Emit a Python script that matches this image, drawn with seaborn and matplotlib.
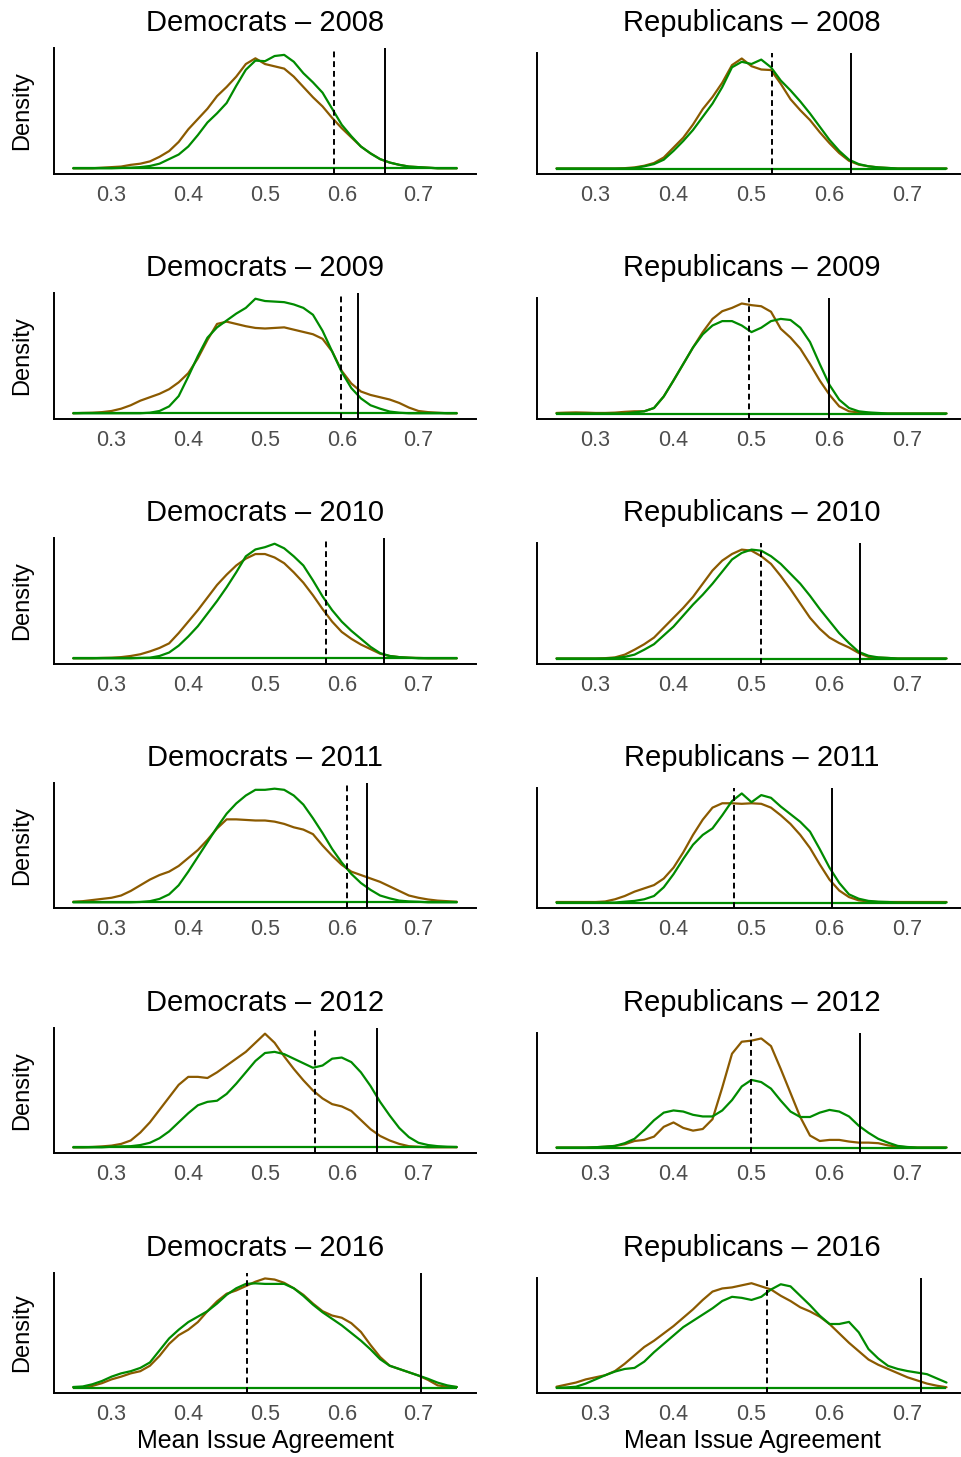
"""
Density panels of mean issue agreement, Democrats vs Republicans by year.
Writes out.png (962 x 1457 px).
"""

import matplotlib

matplotlib.use("Agg")
import matplotlib.pyplot as plt
import pandas as pd
import seaborn as sns

sns.set_style("white")
plt.rcParams["font.family"] = ["Liberation Sans", "DejaVu Sans"]

BROWN = "#8B5A00"
GREEN = "#008B00"
TICK_GREY = "#4D4D4D"

# evaluation grid of the density curves (step 0.0125)
GRID = [0.25, 0.2625, 0.275, 0.2875,
        0.30, 0.3125, 0.325, 0.3375, 0.35, 0.3625, 0.375, 0.3875,
        0.40, 0.4125, 0.425, 0.4375, 0.45, 0.4625, 0.475, 0.4875,
        0.50, 0.5125, 0.525, 0.5375, 0.55, 0.5625, 0.575, 0.5875,
        0.60, 0.6125, 0.625, 0.6375, 0.65, 0.6625, 0.675, 0.6875,
        0.70, 0.7125, 0.725, 0.7375,
        0.75]

# densities, scaled so each panel's peak is about 1
dem_2008_brown = [0, 0, 0, 0.005,
                  0.01, 0.015, 0.03, 0.04, 0.06, 0.10, 0.15, 0.23,
                  0.34, 0.43, 0.52, 0.63, 0.71, 0.80, 0.91, 0.96,
                  0.91, 0.89, 0.87, 0.80, 0.71, 0.62, 0.54, 0.44,
                  0.35, 0.27, 0.19, 0.13, 0.08, 0.05, 0.03, 0.015,
                  0.01, 0.005, 0, 0,
                  0]
dem_2008_green = [0, 0, 0, 0,
                  0, 0.003, 0.005, 0.01, 0.02, 0.04, 0.08, 0.12,
                  0.19, 0.29, 0.40, 0.48, 0.57, 0.72, 0.86, 0.94,
                  0.935, 0.98, 0.99, 0.93, 0.83, 0.75, 0.66, 0.52,
                  0.38, 0.28, 0.19, 0.13, 0.08, 0.05, 0.03, 0.015,
                  0.01, 0.005, 0, 0,
                  0]
rep_2008_brown = [0, 0, 0, 0,
                  0, 0, 0, 0.003, 0.01, 0.025, 0.05, 0.10,
                  0.19, 0.28, 0.40, 0.54, 0.65, 0.78, 0.94, 1.0,
                  0.93, 0.90, 0.895, 0.77, 0.63, 0.53, 0.44, 0.33,
                  0.23, 0.14, 0.07, 0.035, 0.02, 0.01, 0.005, 0,
                  0, 0, 0, 0,
                  0]
rep_2008_green = [0, 0, 0, 0,
                  0, 0, 0, 0, 0.005, 0.02, 0.04, 0.08,
                  0.16, 0.25, 0.35, 0.47, 0.59, 0.74, 0.92, 0.97,
                  0.95, 0.99, 0.92, 0.80, 0.71, 0.61, 0.50, 0.38,
                  0.26, 0.16, 0.08, 0.04, 0.02, 0.01, 0.005, 0,
                  0, 0, 0, 0,
                  0]

dem_2009_brown = [0, 0.003, 0.005, 0.01,
                  0.02, 0.04, 0.07, 0.11, 0.14, 0.17, 0.21, 0.27,
                  0.35, 0.48, 0.64, 0.78, 0.80, 0.78, 0.76, 0.745,
                  0.74, 0.745, 0.75, 0.73, 0.71, 0.69, 0.65, 0.54,
                  0.37, 0.26, 0.19, 0.16, 0.14, 0.12, 0.09, 0.05,
                  0.02, 0.01, 0.005, 0,
                  0]
dem_2009_green = [0, 0, 0, 0,
                  0, 0, 0, 0, 0.005, 0.02, 0.06, 0.15,
                  0.32, 0.50, 0.66, 0.75, 0.81, 0.87, 0.92, 1.0,
                  0.98, 0.975, 0.97, 0.95, 0.92, 0.86, 0.72, 0.54,
                  0.36, 0.22, 0.13, 0.07, 0.04, 0.015, 0.005, 0,
                  0, 0, 0, 0,
                  0]
rep_2009_brown = [0.005, 0.008, 0.01, 0.008,
                  0.005, 0.005, 0.008, 0.015, 0.02, 0.02, 0.05, 0.155,
                  0.30, 0.45, 0.60, 0.74, 0.86, 0.93, 0.96, 1.0,
                  0.985, 0.975, 0.925, 0.77, 0.69, 0.59, 0.45, 0.30,
                  0.17, 0.065, 0.02, 0.01, 0.005, 0, 0, 0,
                  0, 0, 0, 0,
                  0]
rep_2009_green = [0, 0, 0, 0,
                  0, 0, 0, 0, 0.01, 0.02, 0.05, 0.155,
                  0.30, 0.45, 0.60, 0.72, 0.80, 0.84, 0.84, 0.80,
                  0.74, 0.78, 0.84, 0.86, 0.85, 0.78, 0.65, 0.45,
                  0.26, 0.125, 0.05, 0.02, 0.01, 0.005, 0, 0,
                  0, 0, 0, 0,
                  0]

dem_2010_brown = [0, 0, 0, 0.003,
                  0.005, 0.01, 0.02, 0.035, 0.06, 0.09, 0.13, 0.22,
                  0.32, 0.42, 0.53, 0.64, 0.73, 0.81, 0.87, 0.91,
                  0.91, 0.88, 0.83, 0.75, 0.66, 0.55, 0.43, 0.32,
                  0.23, 0.17, 0.12, 0.08, 0.04, 0.02, 0.01, 0.005,
                  0.003, 0, 0, 0,
                  0]
dem_2010_green = [0, 0, 0, 0,
                  0, 0, 0, 0.003, 0.005, 0.02, 0.05, 0.11,
                  0.19, 0.28, 0.39, 0.50, 0.62, 0.75, 0.89, 0.95,
                  0.97, 1.0, 0.96, 0.89, 0.81, 0.68, 0.54, 0.42,
                  0.32, 0.24, 0.17, 0.10, 0.045, 0.02, 0.01, 0.005,
                  0, 0, 0, 0,
                  0]
rep_2010_brown = [0, 0, 0, 0,
                  0, 0.003, 0.01, 0.035, 0.08, 0.13, 0.19, 0.28,
                  0.37, 0.46, 0.56, 0.68, 0.80, 0.89, 0.95, 0.99,
                  0.98, 0.93, 0.86, 0.75, 0.63, 0.50, 0.37, 0.27,
                  0.19, 0.14, 0.10, 0.05, 0.015, 0.008, 0.005, 0,
                  0, 0, 0, 0,
                  0]
rep_2010_green = [0, 0, 0, 0,
                  0, 0, 0.005, 0.015, 0.035, 0.08, 0.13, 0.21,
                  0.29, 0.39, 0.49, 0.58, 0.68, 0.79, 0.90, 0.96,
                  0.99, 0.98, 0.93, 0.86, 0.77, 0.68, 0.57, 0.45,
                  0.34, 0.23, 0.14, 0.06, 0.025, 0.01, 0.005, 0,
                  0, 0, 0, 0,
                  0]

dem_2011_brown = [0.005, 0.01, 0.02, 0.03,
                  0.04, 0.06, 0.10, 0.15, 0.20, 0.24, 0.27, 0.32,
                  0.39, 0.46, 0.55, 0.65, 0.73, 0.73, 0.725, 0.72,
                  0.72, 0.71, 0.69, 0.66, 0.64, 0.60, 0.50, 0.41,
                  0.33, 0.27, 0.24, 0.21, 0.18, 0.14, 0.10, 0.06,
                  0.04, 0.025, 0.015, 0.01,
                  0.005]
dem_2011_green = [0, 0, 0, 0,
                  0, 0, 0, 0.003, 0.01, 0.03, 0.07, 0.15,
                  0.27, 0.40, 0.53, 0.66, 0.78, 0.87, 0.94, 0.99,
                  0.99, 1.0, 0.99, 0.94, 0.86, 0.74, 0.61, 0.47,
                  0.35, 0.25, 0.17, 0.11, 0.06, 0.035, 0.015, 0.008,
                  0.005, 0, 0, 0,
                  0]
rep_2011_brown = [0.005, 0.005, 0.005, 0.005,
                  0.005, 0.01, 0.03, 0.06, 0.10, 0.13, 0.16, 0.22,
                  0.32, 0.46, 0.62, 0.76, 0.87, 0.91, 0.91, 0.905,
                  0.91, 0.905, 0.87, 0.80, 0.72, 0.62, 0.50, 0.35,
                  0.21, 0.11, 0.05, 0.02, 0.01, 0.005, 0.005, 0.005,
                  0.005, 0.005, 0.005, 0.005,
                  0.005]
rep_2011_green = [0, 0, 0, 0,
                  0, 0, 0, 0.008, 0.015, 0.03, 0.06, 0.14,
                  0.26, 0.40, 0.53, 0.62, 0.68, 0.80, 0.93, 1.0,
                  0.92, 0.985, 0.96, 0.88, 0.81, 0.74, 0.65, 0.49,
                  0.32, 0.18, 0.075, 0.035, 0.015, 0.008, 0.005, 0,
                  0, 0, 0, 0,
                  0]

dem_2012_brown = [0, 0, 0.003, 0.008,
                  0.015, 0.03, 0.06, 0.13, 0.22, 0.33, 0.44, 0.55,
                  0.62, 0.62, 0.61, 0.66, 0.72, 0.78, 0.84, 0.92,
                  1.0, 0.92, 0.80, 0.69, 0.59, 0.50, 0.43, 0.38,
                  0.36, 0.32, 0.24, 0.16, 0.10, 0.06, 0.03, 0.01,
                  0.005, 0, 0, 0,
                  0]
dem_2012_green = [0, 0, 0, 0,
                  0.005, 0.008, 0.01, 0.02, 0.04, 0.08, 0.14, 0.22,
                  0.30, 0.37, 0.40, 0.41, 0.47, 0.56, 0.66, 0.76,
                  0.83, 0.84, 0.82, 0.78, 0.74, 0.70, 0.72, 0.78,
                  0.79, 0.75, 0.66, 0.54, 0.40, 0.28, 0.17, 0.09,
                  0.04, 0.02, 0.01, 0.005,
                  0.003]
rep_2012_brown = [0, 0, 0, 0,
                  0.003, 0.008, 0.015, 0.03, 0.06, 0.07, 0.10, 0.19,
                  0.23, 0.18, 0.155, 0.17, 0.26, 0.55, 0.86, 0.97,
                  0.98, 1.0, 0.93, 0.72, 0.50, 0.28, 0.11, 0.06,
                  0.07, 0.07, 0.055, 0.045, 0.045, 0.04, 0.02, 0.008,
                  0.003, 0, 0, 0,
                  0]
rep_2012_green = [0, 0, 0, 0,
                  0.003, 0.008, 0.015, 0.04, 0.08, 0.16, 0.25, 0.32,
                  0.34, 0.33, 0.30, 0.285, 0.285, 0.34, 0.435, 0.56,
                  0.62, 0.60, 0.54, 0.43, 0.33, 0.28, 0.28, 0.32,
                  0.345, 0.33, 0.285, 0.20, 0.135, 0.08, 0.045, 0.015,
                  0.005, 0, 0, 0,
                  0]

dem_2016_brown = [0, 0.003, 0.015, 0.04,
                  0.075, 0.10, 0.13, 0.15, 0.20, 0.29, 0.40, 0.48,
                  0.53, 0.60, 0.70, 0.79, 0.86, 0.89, 0.93, 0.97,
                  1.0, 0.99, 0.96, 0.91, 0.85, 0.77, 0.70, 0.66,
                  0.64, 0.59, 0.51, 0.39, 0.28, 0.20, 0.17, 0.14,
                  0.11, 0.07, 0.02, 0.008,
                  0.005]
dem_2016_green = [0.005, 0.01, 0.03, 0.06,
                  0.10, 0.13, 0.15, 0.18, 0.23, 0.34, 0.45, 0.53,
                  0.60, 0.65, 0.70, 0.77, 0.85, 0.91, 0.95, 0.955,
                  0.95, 0.95, 0.95, 0.91, 0.84, 0.76, 0.69, 0.63,
                  0.57, 0.50, 0.43, 0.35, 0.26, 0.20, 0.17, 0.14,
                  0.11, 0.08, 0.045, 0.02,
                  0.005]
rep_2016_brown = [0.01, 0.03, 0.05, 0.08,
                  0.10, 0.12, 0.16, 0.23, 0.31, 0.39, 0.45, 0.52,
                  0.59, 0.67, 0.75, 0.84, 0.92, 0.95, 0.96, 0.98,
                  1.0, 0.97, 0.94, 0.88, 0.83, 0.77, 0.73, 0.68,
                  0.61, 0.52, 0.43, 0.35, 0.27, 0.22, 0.18, 0.14,
                  0.10, 0.07, 0.04, 0.02,
                  0.005]
rep_2016_green = [0, 0.003, 0.01, 0.04,
                  0.08, 0.12, 0.155, 0.18, 0.19, 0.25, 0.34, 0.42,
                  0.50, 0.58, 0.64, 0.70, 0.76, 0.83, 0.87, 0.86,
                  0.84, 0.87, 0.94, 0.99, 0.97, 0.88, 0.79, 0.69,
                  0.61, 0.61, 0.63, 0.53, 0.37, 0.28, 0.21, 0.18,
                  0.16, 0.145, 0.13, 0.09,
                  0.05]

PANEL_TITLES = ["Democrats – 2008", "Republicans – 2008",
                "Democrats – 2009", "Republicans – 2009",
                "Democrats – 2010", "Republicans – 2010",
                "Democrats – 2011", "Republicans – 2011",
                "Democrats – 2012", "Republicans – 2012",
                "Democrats – 2016", "Republicans – 2016"]
PANEL_CURVES = [(dem_2008_brown, dem_2008_green), (rep_2008_brown, rep_2008_green),
                (dem_2009_brown, dem_2009_green), (rep_2009_brown, rep_2009_green),
                (dem_2010_brown, dem_2010_green), (rep_2010_brown, rep_2010_green),
                (dem_2011_brown, dem_2011_green), (rep_2011_brown, rep_2011_green),
                (dem_2012_brown, dem_2012_green), (rep_2012_brown, rep_2012_green),
                (dem_2016_brown, dem_2016_green), (rep_2016_brown, rep_2016_green)]

# reference lines
DASHED_X = [0.590, 0.5265, 0.5987, 0.497, 0.5796, 0.5128,
            0.6065, 0.4778, 0.5657, 0.500, 0.477, 0.520]
SOLID_X = [0.657, 0.627, 0.6217, 0.600, 0.6552, 0.639,
           0.6335, 0.603, 0.6465, 0.639, 0.7035, 0.7175]

XTICKS = [0.3, 0.4, 0.5, 0.6, 0.7]
XTICK_LABELS = ["0.3", "0.4", "0.5", "0.6", "0.7"]

# layout in pixels
W, H = 962, 1457
ROW_TOP = [48, 293, 538, 783, 1028, 1273]
ROW_BOTTOM = [174, 419, 664, 908, 1153, 1393]
COL_LEFT = [54, 537]
COL_WIDTH = [422, 429]
COL_CENTER = [265, 752]
RIGHT_TOP_OFFSET = 5


def fx(px):
    return px / W


def fy(py):
    return 1 - py / H


for brown, green in PANEL_CURVES:
    if len(brown) != len(GRID) or len(green) != len(GRID):
        raise ValueError("curve length does not match grid")

fig = plt.figure(figsize=(W / 100, H / 100), dpi=100)

for i, title in enumerate(PANEL_TITLES):
    row, col = divmod(i, 2)
    top = ROW_TOP[row] + (RIGHT_TOP_OFFSET if col == 1 else 0)
    bottom = ROW_BOTTOM[row]
    ax = fig.add_axes([fx(COL_LEFT[col]), fy(bottom), COL_WIDTH[col] / W, (bottom - top) / H])

    brown, green = PANEL_CURVES[i]
    df = pd.DataFrame({
        "x": GRID + GRID,
        "density": brown + green,
        "series": ["brown"] * len(GRID) + ["green"] * len(GRID),
    })
    sns.lineplot(data=df, x="x", y="density", hue="series", palette=[BROWN, GREEN],
                 estimator=None, legend=False, linewidth=1.6, ax=ax)
    ax.hlines(0, GRID[0], GRID[-1], color=GREEN, linewidth=1.6)
    ax.axvline(DASHED_X[i], color="black", linewidth=1.4, linestyle=(0, (3, 2)))
    ax.axvline(SOLID_X[i], color="black", linewidth=1.4)

    ax.set_xlim(0.225, 0.775)
    ax.set_ylim(-0.05, 1.05)
    ax.set_xticks(XTICKS)
    ax.set_xticklabels(XTICK_LABELS)
    ax.set_yticks([])
    ax.set_xlabel("")
    ax.set_ylabel("")
    ax.tick_params(axis="x", length=0, pad=8, labelsize=15.5, labelcolor=TICK_GREY)
    sns.despine(ax=ax)
    for side in ("left", "bottom"):
        ax.spines[side].set_color("black")
        ax.spines[side].set_linewidth(1.4)

    fig.text(fx(COL_CENTER[col]), fy(ROW_TOP[row] - 25), title, ha="center", va="center",
             fontsize=21, color="black")
    if col == 0:
        fig.text(fx(22), fy((ROW_TOP[row] + bottom) / 2), "Density", rotation=90,
                 ha="center", va="center", fontsize=17, color="black")

for cx in COL_CENTER:
    fig.text(fx(cx), fy(1441), "Mean Issue Agreement", ha="center", va="center",
             fontsize=18, color="black")

fig.savefig("out.png", dpi=100)
